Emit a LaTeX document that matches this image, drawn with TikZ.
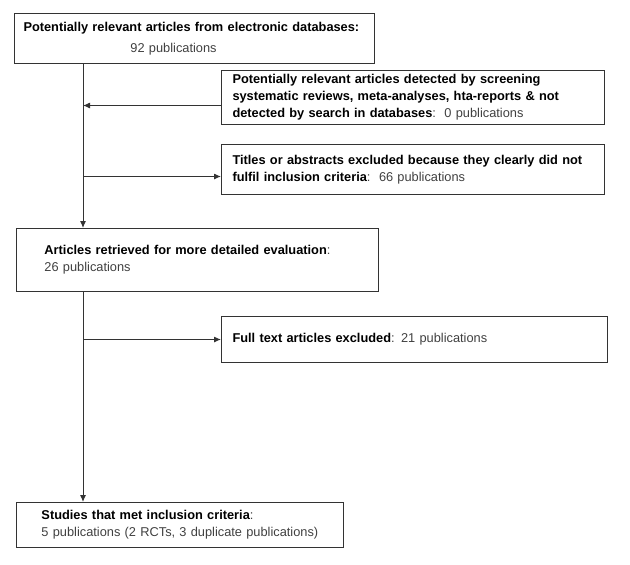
\documentclass[tikz,border=0pt]{standalone}
\usepackage{fontspec}
\setmainfont{Liberation Sans}
\usetikzlibrary{arrows.meta,positioning}

\newcommand{\hdr}[1]{{\color{black}\bfseries #1}}

\begin{document}
\begin{tikzpicture}[
x=1pt,y=-1pt,
box/.style={
draw=black!80,
line width=1pt,
anchor=north west,
align=left,
inner xsep=11pt,
inner ysep=0pt,
text width=#1,
text=black!75,
font=\fontsize{12.8}{17}\selectfont
},
arrow/.style={-{Latex[length=7pt,width=6pt]},draw=black!80,line width=1pt}
]

\useasboundingbox (0,0) rectangle (630,565);

% trunk line on the left
\coordinate (trunk) at (83,0);

\node[box=342pt,inner xsep=9pt,minimum height=50pt] (search) at (14,13)
{\hdr{Potentially relevant articles from electronic databases:}\\[4pt]
\hspace*{107pt}92 publications};

\node[box=361pt,minimum height=54pt] (extra) at (221,70)
{\hdr{Potentially relevant articles detected by screening}\\
\hdr{systematic reviews, meta-analyses, hta-reports \& not}\\
\hdr{detected by search in databases}:~~0 publications};

\node[box=361pt,minimum height=50pt] (titles) at (221,144)
{\hdr{Titles or abstracts excluded because they clearly did not}\\
\hdr{fulfil inclusion criteria}:~~66 publications};

\node[box=306pt,inner xsep=28pt,minimum height=63pt] (retrieved) at (16,228)
{\hdr{Articles retrieved for more detailed evaluation}:\\
26 publications};

\node[box=364pt,minimum height=46pt] (fulltext) at (221,316)
{\hdr{Full text articles excluded}: 21 publications};

\node[box=277pt,inner xsep=25pt,minimum height=45pt] (included) at (16,502)
{\hdr{Studies that met inclusion criteria}:\\
5 publications (2 RCTs, 3 duplicate publications)};

\draw[arrow] (trunk |- search.south) -- (trunk |- retrieved.north);
\draw[arrow] ([yshift=-8pt]extra.west) -- ([yshift=-8pt]extra.west -| trunk);
\draw[arrow] ([yshift=-7pt]titles.west -| trunk) -- ([yshift=-7pt]titles.west);
\draw[arrow] (trunk |- retrieved.south) -- (trunk |- included.north);
\draw[arrow] (fulltext.west -| trunk) -- (fulltext.west);

\end{tikzpicture}
\end{document}
